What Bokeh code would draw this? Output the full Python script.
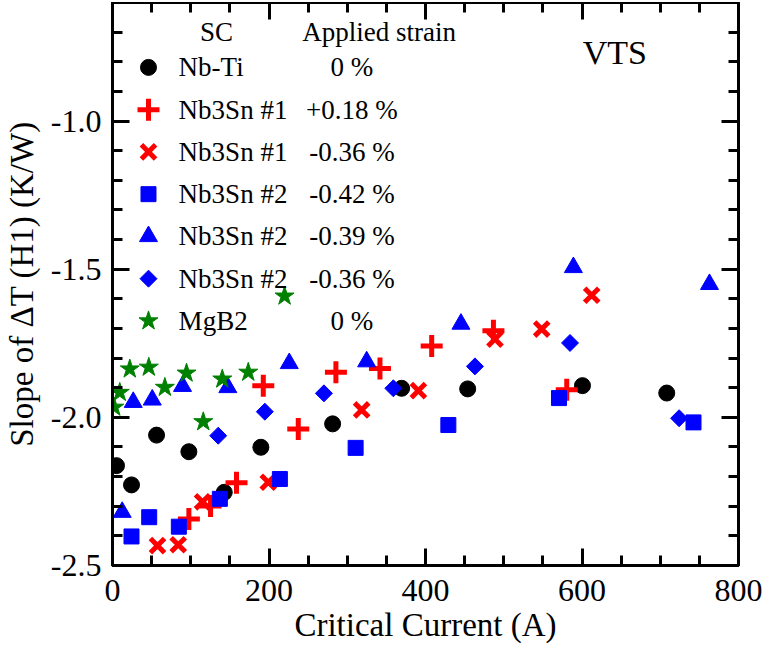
from bokeh.plotting import figure
from bokeh.models import FixedTicker, LinearAxis, Range1d
from bokeh.core.properties import value
from bokeh.embed import file_html
from bokeh.resources import INLINE
import numpy as np

# ---------------- data ----------------
x_ticks = [0, 200, 400, 600, 800]
x_tick_labels = ["0", "200", "400", "600", "800"]
y_ticks = [-2.5, -2.0, -1.5, -1.0]
y_tick_labels = ["-2.5", "-2.0", "-1.5", "-1.0"]

sc_names = ["Nb-Ti", "Nb3Sn #1", "Nb3Sn #1", "Nb3Sn #2", "Nb3Sn #2", "Nb3Sn #2", "MgB2"]
strains = ["0 %", "+0.18 %", "-0.36 %", "-0.42 %", "-0.39 %", "-0.36 %", "0 %"]

nbti_x = [5.1, 24.3, 56.3, 97.6, 142.8, 189.6, 281.3, 369.5, 453.9, 600.6, 708.3]
nbti_y = [-2.163, -2.228, -2.060, -2.116, -2.253, -2.101, -2.022, -1.902, -1.904, -1.893, -1.918]

nb3sn1_p018_x = [97.6, 125.3, 158.5, 192.7, 237.4, 285.5, 341.8, 407.9, 486.8, 580.5]
nb3sn1_p018_y = [-2.343, -2.299, -2.221, -1.893, -2.039, -1.848, -1.835, -1.759, -1.708, -1.907]

nb3sn1_m036_x = [57.5, 84.0, 115.1, 199.1, 318.4, 390.9, 488.8, 548.5, 612.4]
nb3sn1_m036_y = [-2.433, -2.430, -2.285, -2.219, -1.975, -1.910, -1.736, -1.702, -1.588]

nb3sn2_m042_x = [24.3, 46.9, 84.8, 137.2, 213.9, 310.7, 429.2, 570.6, 742.5]
nb3sn2_m042_y = [-2.402, -2.337, -2.369, -2.275, -2.208, -2.103, -2.026, -1.935, -2.017]

nb3sn2_m039_x = [12.4, 26.5, 50.8, 89.5, 147.4, 225.9, 324.8, 445.3, 589.0, 762.9]
nb3sn2_m039_y = [-2.320, -1.949, -1.941, -1.895, -1.899, -1.818, -1.812, -1.685, -1.494, -1.551]

nb3sn2_m036_x = [135.1, 194.7, 270.2, 358.9, 463.2, 584.7, 724.1]
nb3sn2_m036_y = [-2.062, -1.981, -1.919, -1.902, -1.828, -1.749, -2.003]

mgb2_x = [2.2, 9.3, 22.1, 46.4, 66.9, 94.6, 116.0, 140.3, 173.5, 219.9]
mgb2_y = [-1.966, -1.916, -1.837, -1.831, -1.899, -1.851, -2.015, -1.871, -1.848, -1.591]

series_x = [nbti_x, nb3sn1_p018_x, nb3sn1_m036_x, nb3sn2_m042_x, nb3sn2_m039_x, nb3sn2_m036_x, mgb2_x]
series_y = [nbti_y, nb3sn1_p018_y, nb3sn1_m036_y, nb3sn2_m042_y, nb3sn2_m039_y, nb3sn2_m036_y, mgb2_y]

# ---------------- styles ----------------
FONT = "Times New Roman"
styles = [
    dict(marker="circle", size=16, fill_color="black", line_color="black", line_width=1, angle=0),
    dict(marker="cross", size=22, fill_color=None, line_color="#ff0000", line_width=5, angle=0),
    dict(marker="x", size=20, fill_color=None, line_color="#ff0000", line_width=5, angle=0),
    dict(marker="square", size=15, fill_color="#0000ff", line_color="#0000ff", line_width=1, angle=0),
    dict(marker="triangle", size=18, fill_color="#0000ff", line_color="#0000ff", line_width=1, angle=0),
    dict(marker="square", size=12, fill_color="#0000ff", line_color="#0000ff", line_width=1, angle=np.pi / 4),
    dict(marker="star", size=20, fill_color="#008000", line_color="#008000", line_width=1, angle=0),
]

p = figure(
    frame_width=626, frame_height=563,
    x_range=Range1d(0, 800), y_range=Range1d(-2.5, -0.6),
    output_backend="svg", toolbar_location=None,
    min_border_left=103, min_border_right=25, min_border_top=0, min_border_bottom=0,
    background_fill_color="white", border_fill_color="white",
    outline_line_color="black", outline_line_width=3,
    margin=(2, 0, 0, 0),
)
p.grid.visible = False

x_minor = [v for v in range(0, 801, 50) if v not in x_ticks]
y_minor = [round(-2.5 + 0.1 * i, 2) for i in range(0, 20)]
y_minor = [v for v in y_minor if v not in y_ticks]


def style_axis(ax, labels=True):
    ax.axis_line_width = 3
    ax.axis_line_color = "black"
    ax.major_tick_in = 17
    ax.major_tick_out = 0
    ax.minor_tick_in = 10
    ax.minor_tick_out = 0
    ax.major_tick_line_width = 3
    ax.minor_tick_line_width = 3
    ax.major_label_text_font = FONT
    ax.major_label_text_font_size = "32px"
    ax.major_label_text_color = "black"
    ax.axis_label_text_font = FONT
    ax.axis_label_text_font_size = "33px"
    ax.axis_label_text_font_style = "normal"
    ax.axis_label_text_color = "black"
    if not labels:
        ax.major_label_text_font_size = "1px"
        ax.major_label_text_color = None
        ax.major_label_standoff = 0


p.xaxis.ticker = FixedTicker(ticks=x_ticks, minor_ticks=x_minor)
p.yaxis.ticker = FixedTicker(ticks=y_ticks, minor_ticks=y_minor)
p.xaxis.major_label_overrides = dict(zip(x_ticks, x_tick_labels))
p.yaxis.major_label_overrides = dict(zip(y_ticks, y_tick_labels))
style_axis(p.xaxis[0])
style_axis(p.yaxis[0])
p.xaxis.axis_label = "Critical Current (A)"
p.yaxis.axis_label = "Slope of \u0394T (H1) (K/W)"
p.xaxis.major_label_standoff = 14
p.xaxis.axis_label_standoff = 3
p.yaxis.major_label_standoff = 11
p.yaxis.axis_label_standoff = 8

top_ax = LinearAxis(ticker=FixedTicker(ticks=x_ticks, minor_ticks=x_minor))
right_ax = LinearAxis(ticker=FixedTicker(ticks=y_ticks, minor_ticks=y_minor))
style_axis(top_ax, labels=False)
style_axis(right_ax, labels=False)
p.add_layout(top_ax, "above")
p.add_layout(right_ax, "right")

# ---------------- data points ----------------
for xs, ys, st in zip(series_x, series_y, styles):
    p.scatter(xs, ys, **st)

# ---------------- custom legend (layout in data units) ----------------
leg_x_marker = 46
leg_x_name = 84.5
leg_x_strain = 306
leg_y0 = -0.819
leg_dy = 0.1426
leg_header_y = -0.698
leg_font = "27px"

p.text(x=[133, 340.7], y=[leg_header_y, leg_header_y], text=["SC", "Applied strain"],
       text_font=value(FONT), text_font_size=value(leg_font), text_align="center",
       text_baseline="middle", text_color="black")

for i, (nm, stn, st) in enumerate(zip(sc_names, strains, styles)):
    yy = leg_y0 - i * leg_dy
    p.scatter([leg_x_marker], [yy], **st)
    p.text(x=[leg_x_name], y=[yy], text=[nm], text_font=value(FONT),
           text_font_size=value(leg_font), text_align="left", text_baseline="middle",
           text_color="black")
    p.text(x=[leg_x_strain], y=[yy], text=[stn], text_font=value(FONT),
           text_font_size=value(leg_font), text_align="center", text_baseline="middle",
           text_color="black")

p.text(x=[641.9], y=[-0.769], text=["VTS"], text_font=value(FONT),
       text_font_size=value("34px"), text_align="center", text_baseline="middle",
       text_color="black")

open("out.html", "w").write(file_html(p, INLINE))
